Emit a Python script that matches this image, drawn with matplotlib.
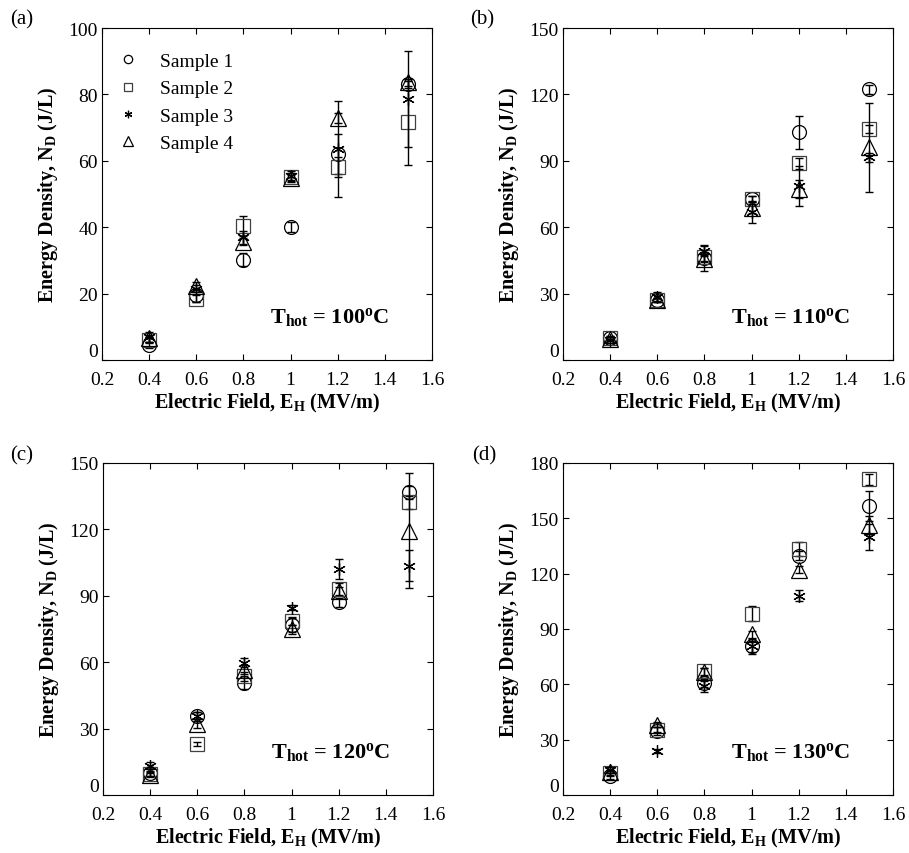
import numpy as np
import matplotlib.pyplot as plt

# electric field (MV/m), same for all panels
field = [0.4, 0.6, 0.8, 1.0, 1.2, 1.5]
samples = ["Sample 1", "Sample 2", "Sample 3", "Sample 4"]
temps = [100, 110, 120, 130]
panel_tags = ["(a)", "(b)", "(c)", "(d)"]

# energy density N_D (J/L), rows = sample 1..4
nd_100 = [[4.5, 19.5, 30.2, 40.0, 62.0, 83.0],
          [6.0, 18.5, 40.5, 55.2, 58.0, 71.6],
          [7.0, 21.5, 37.0, 55.5, 63.6, 78.6],
          [6.5, 22.4, 35.6, 54.7, 73.0, 83.6]]
err_100 = [[1.0, 2.0, 2.0, 1.5, 6.0, 1.0],
           [1.0, 1.0, 3.0, 1.0, 3.0, 13.0],
           [1.5, 1.0, 2.0, 1.5, 14.5, 14.5],
           [1.0, 1.0, 1.0, 1.0, 1.5, 1.0]]

nd_110 = [[10.0, 27.0, 46.0, 72.7, 102.9, 122.4],
          [10.0, 27.0, 46.4, 72.7, 88.9, 104.4],
          [9.0, 28.5, 49.4, 66.7, 78.8, 91.6],
          [9.5, 27.0, 45.6, 68.5, 77.3, 96.1]]
err_110 = [[1.0, 1.0, 6.0, 1.5, 7.5, 2.0],
           [1.0, 1.0, 1.5, 1.5, 2.5, 2.0],
           [1.5, 2.0, 2.0, 5.0, 9.0, 2.0],
           [1.0, 1.0, 1.5, 2.0, 4.0, 20.0]]

nd_120 = [[9.8, 35.5, 50.7, 76.8, 87.0, 136.8],
          [9.5, 23.1, 53.7, 78.6, 93.0, 132.3],
          [13.2, 35.5, 59.7, 84.7, 102.0, 103.6],
          [9.0, 32.2, 56.7, 74.9, 92.2, 119.5]]
err_120 = [[1.0, 2.0, 3.0, 3.0, 2.0, 3.0],
           [1.0, 1.0, 2.0, 2.0, 3.0, 3.0],
           [1.5, 2.0, 2.0, 1.0, 4.5, 7.0],
           [1.0, 2.0, 2.0, 2.0, 2.0, 26.0]]

nd_130 = [[10.3, 34.8, 60.8, 80.7, 129.7, 156.6],
          [11.8, 35.4, 67.1, 98.3, 133.4, 171.1],
          [13.6, 24.0, 59.0, 80.7, 108.0, 139.7],
          [12.2, 38.1, 66.6, 87.1, 122.1, 146.4]]
err_130 = [[1.5, 2.0, 2.0, 3.0, 2.5, 8.0],
           [1.5, 1.5, 2.0, 4.0, 4.0, 3.0],
           [1.5, 1.0, 3.0, 4.0, 3.0, 7.0],
           [1.5, 1.5, 2.0, 2.0, 2.0, 5.0]]

panels = [(nd_100, err_100, 100, 20), (nd_110, err_110, 150, 30),
          (nd_120, err_120, 150, 30), (nd_130, err_130, 180, 30)]

plt.rcParams['font.family'] = 'Liberation Serif'
plt.rcParams['mathtext.fontset'] = 'custom'
plt.rcParams['mathtext.rm'] = 'Liberation Serif'
plt.rcParams['mathtext.it'] = 'Liberation Serif:italic'
plt.rcParams['mathtext.bf'] = 'Liberation Serif:bold'

markers = ['o', 's', (6, 2, 0), '^']
msizes = [10, 10, 9, 11]
mcolors = ['black', '#404040', 'black', 'black']

fig = plt.figure(figsize=(9.09, 8.54), dpi=100)
W, H = 909, 854
boxes = [(102, 29), (563, 29), (103, 464), (563, 464)]
tag_pos = [(10, 20), (470, 20), (10, 456), (472, 456)]

for i, (nd, err, ymax, ystep) in enumerate(panels):
    x0, y0 = boxes[i]
    ax = fig.add_axes([x0 / W, 1 - (y0 + 332) / H, 330 / W, 332 / H])
    for k in range(4):
        ax.errorbar(field, nd[k], yerr=err[k], fmt='none', ecolor='black',
                    elinewidth=1, capsize=3, capthick=1)
        ax.plot(field, nd[k], linestyle='none', marker=markers[k],
                markersize=msizes[k], markerfacecolor='none',
                markeredgecolor=mcolors[k], markeredgewidth=0.9,
                label=samples[k])
    ax.set_xlim(0.2, 1.6)
    ax.set_ylim(0, ymax)
    ax.set_xticks([0.2, 0.4, 0.6, 0.8, 1.0, 1.2, 1.4, 1.6])
    ax.set_xticklabels(['0.2', '0.4', '0.6', '0.8', '1', '1.2', '1.4', '1.6'])
    ax.set_yticks(np.arange(0, ymax + 1, ystep))
    ax.tick_params(direction='in', top=True, right=True, labelsize=14,
                   length=4)
    ax.tick_params(axis='x', pad=8)
    ax.tick_params(axis='y', pad=3)
    # the bottom y label sits on the axis line, as in the original
    ax.get_yticklabels()[0].set_verticalalignment('bottom')
    ax.set_xlabel(r'Electric Field, E$_{\mathbf{H}}$ (MV/m)',
                  fontsize=14.5, fontweight='bold', labelpad=2)
    ax.set_ylabel(r'Energy Density, N$_{\mathbf{D}}$ (J/L)',
                  fontsize=14.5, fontweight='bold', labelpad=6)
    ax.text(0.51, 0.115,
            r'T$_{\mathbf{hot}}$ = %d$^{\mathbf{o}}$C' % temps[i],
            transform=ax.transAxes, fontsize=16, fontweight='bold')
    if i == 0:
        ax.legend(loc='upper left', bbox_to_anchor=(0.026, 0.95),
                  frameon=False, fontsize=14, markerscale=0.6,
                  handlelength=1.0, handletextpad=1.15,
                  labelspacing=0.5, borderaxespad=0)
    fig.text(tag_pos[i][0] / W, 1 - tag_pos[i][1] / H, panel_tags[i],
             fontsize=15, va='center')

fig.savefig('out.png', dpi=100)
